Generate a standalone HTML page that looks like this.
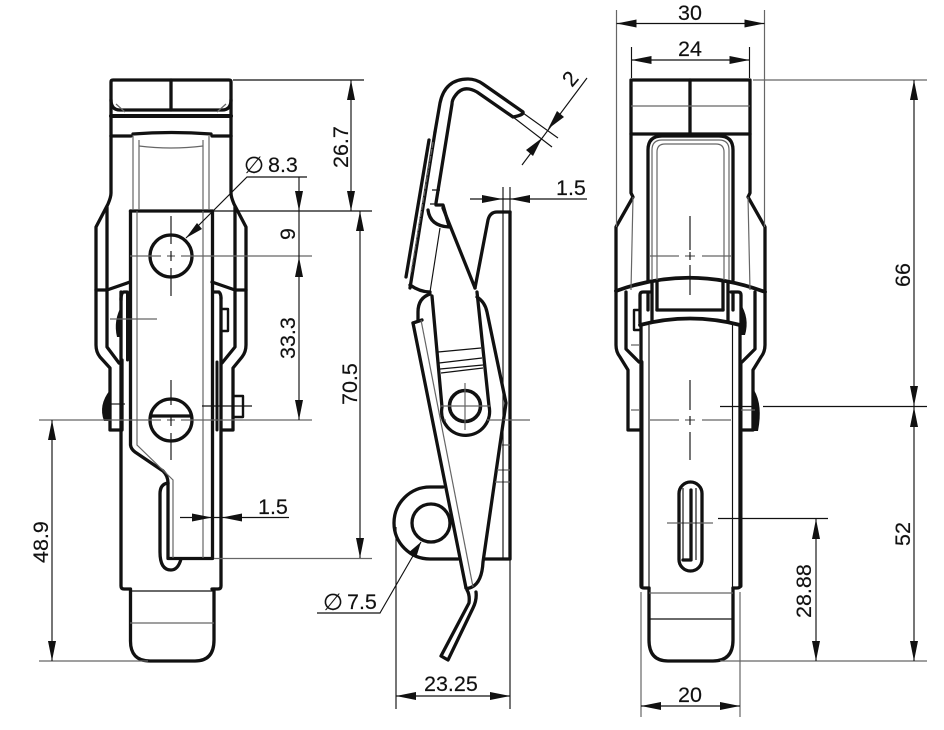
<!DOCTYPE html>
<html>
<head>
<meta charset="utf-8">
<style>
html,body{margin:0;padding:0;background:#fff;}
svg{display:block;}
text{font-family:"Liberation Sans",sans-serif;font-size:21.5px;fill:#111;stroke:#111;stroke-width:.15;}
.s{font-family:"DejaVu Sans",sans-serif;font-size:23px;}
.t{fill:none;stroke:#111;stroke-width:3.3;stroke-linejoin:round;stroke-linecap:round;}
.k{fill:none;stroke:#111;stroke-width:2.4;stroke-linejoin:round;}
.m{fill:none;stroke:#111;stroke-width:1.15;}
.g{fill:none;stroke:#666;stroke-width:1.2;}
.a{fill:#111;stroke:none;}
</style>
</head>
<body>
<svg width="944" height="730" viewBox="0 0 944 730" xmlns="http://www.w3.org/2000/svg">
<!-- LEFT VIEW -->
<g class="t">
<path d="M113 80H229Q231 80 231 82V136M111 136V82Q111 80 113 80"/>
<path d="M171 80V110"/>
<path d="M111 100Q111 110 120 110H222Q231 110 231 100"/>
<path d="M111 116H231" stroke-width="4"/>
<path d="M111 136H131M212 136H231"/>
<path d="M133 134Q171 131 211 134"/>
<path d="M111 136V193Q111 197 108 204L96 227V345Q96 352 100 357L110 368V430H120"/>
<path d="M231 136V193Q231 197 234 204L246 227V345Q246 352 242 357L233 368V430H222"/>
<path d="M107 207V347L119 363"/>
<path d="M235 207V347L222 363"/>
<path d="M96 290H107L130 282"/>
<path d="M246 290H235L212 282"/>
<path d="M121 300Q121 292 124 292H127"/>
<path d="M213 292H219Q221 294 221 298"/>
<path d="M121 292V586Q121 589 124 589H130"/>
<path d="M221 298V586Q221 589 218 589H212"/>
<path d="M130.5 211H212"/>
<path d="M130.5 211V445Q131 449 135 452L163 471Q168 476 168 483V558.5H212.5V211"/>
<path d="M168 483Q160 484 160 494V552Q160 570 171 570Q178 570 181 559"/>
<path d="M130.5 589V640Q130 661 150 661H195Q214 661 214 640V589"/>
<path d="M127.5 292V360" stroke-width="3"/>
<path d="M217 362V430" stroke-width="3"/>
<path d="M122 360V430"/>
</g>
<g class="k">
<path d="M222 309H228V331H222"/>
<path d="M233 396H243V417H233"/>
</g>
<path class="a" d="M122 305Q113 320 117 337L122 337Z"/>
<path class="a" d="M110 390Q98 405 104 421L110 421Z"/>
<circle class="t" cx="171" cy="256" r="21"/>
<circle class="t" cx="171" cy="420" r="21"/>
<path class="t" d="M151 416H191"/>
<g class="g">
<path d="M137 211V445L173 480V558"/>
<path d="M203 211V558"/>
<path d="M133 136V210M209 136V210M139 140V210M203 140V210"/>
<path d="M139 146Q171 150 203 146"/>
<path d="M116 104L125 112M226 104L217 112"/>
<path d="M130 623H214"/>
<path d="M130 256H161M167 256H175M181 256H312"/>
<path d="M39 420H161M167 420H175M181 420H312"/>
<path d="M110 319H157"/>
<path d="M39 661H148"/>
<path d="M214 558.5H372"/>
</g>
<g class="m">
<path d="M171 216V244M171 251V261M171 268V296"/>
<path d="M171 380V405M171 415V426M171 433V460"/>
<path d="M202 406H252"/>
<path d="M110 404H125"/>
<path d="M130 591H214"/>
<path d="M233 80H364"/>
<path d="M214 211H372"/>
<path d="M351 80V211"/>
<path d="M299 177V420"/>
<path d="M360 211V558"/>
<path d="M52 420V661"/>
<path d="M180 517.5H289"/>
<path d="M307 177H247L186 238"/>
</g>
<g class="a">
<polygon points="351,80 347,100 355,100"/>
<polygon points="351,211 347,191 355,191"/>
<polygon points="299,211 295,191 303,191"/>
<polygon points="299,257 295,277 303,277"/>
<polygon points="299,420 295,400 303,400"/>
<polygon points="360,211 356,231 364,231"/>
<polygon points="360,558 356,538 364,538"/>
<polygon points="52,420 48,440 56,440"/>
<polygon points="52,661 48,641 56,641"/>
<polygon points="212,517.5 192,513.5 192,521.5"/>
<polygon points="222,517.5 242,513.5 242,521.5"/>
<polygon points="186,238 197,223 202,229"/>
</g>
<text class="s" x="244" y="173">∅</text>
<text x="268" y="172">8.3</text>
<text x="258" y="514">1.5</text>
<text transform="translate(348,168) rotate(-90)">26.7</text>
<text transform="translate(295,240) rotate(-90)">9</text>
<text transform="translate(295,359) rotate(-90)">33.3</text>
<text transform="translate(357,405) rotate(-90)">70.5</text>
<text transform="translate(48,563) rotate(-90)">48.9</text>

<!-- SIDE VIEW -->
<g class="t">
<path d="M435 132L440 103Q445 79 468 79Q476 79 483 84L523 112Q524 115 513 117L477 92Q463 84 455 96Q452 100 452 104L436 203"/>
<path d="M429 140L406 277"/>
<path d="M435 132L410 288"/>
<path d="M436 205H443L449 226"/>
<path d="M428 210Q430 226 449 227"/>
<path d="M443 208L475 288"/>
<path d="M410 285Q420 292 430 292"/>
<path d="M430 294Q418 298 418 312V320"/>
<path d="M413 323L422 320"/>
<path d="M413 323L466 588"/>
<path d="M432 296L442 407A24 24 0 1 0 489 406L477 292"/>
<path d="M477 297Q485 302 487 312L506 403L483 562Q482 582 472 587Q468 589 466 588"/>
<path d="M510 212V559H485"/>
<path d="M510 212H497Q490 212 488 220L475 288"/>
<path d="M443 487H430A36 36 0 0 0 430 559H458"/>
<circle cx="431" cy="523" r="19"/>
<circle cx="465" cy="406" r="15.5" stroke-width="3.6"/>
<path d="M467 590Q470 595 469 603L441 656L448 660L473 608Q477 600 476 592"/>
</g>
<g class="g">
<path d="M433 142L411 273" stroke-dasharray="6 1"/>
<path d="M421 320L473 587"/>
<path d="M487 420H530"/>
<path d="M441 406H490"/>
<path d="M465 383V430"/>
<path d="M502 445H510M497 470H510M495 482H510"/>
<path d="M444 420H446"/>
</g>
<g class="m">
<path d="M440 228L430 292"/>
<path d="M503 187V559"/>
<path d="M510 187V211"/>
<path d="M432 190H440M430 204H437"/>
<path d="M438 352L481 348M439 363L482 358M440 369L483 365M441 373L483 368"/>
<path d="M470 199H587"/>
<path d="M523 113L558 138M513 117L552 147"/>
<path d="M587 78L522 165"/>
<path d="M317 613H380L421 542"/>
<path d="M396 527V709M510 559V709"/>
<path d="M396 696H510"/>
</g>
<g class="a">
<polygon points="502.5,199 482,195 482,203"/>
<polygon points="510,199 530,195 530,203"/>
<polygon points="548,129 557,111 564,117"/>
<polygon points="542,138 533,156 526,150"/>
<polygon points="421,542 416,558 408,553"/>
<polygon points="396,696 416,692 416,700"/>
<polygon points="510,696 490,692 490,700"/>
</g>
<text x="556" y="195">1.5</text>
<text transform="translate(572,88) rotate(-50)">2</text>
<text class="s" x="323" y="610">∅</text>
<text x="347" y="609">7.5</text>
<text x="424" y="691">23.25</text>

<!-- RIGHT VIEW -->
<g class="t">
<path d="M631 80H750V134H631Z"/>
<path d="M690 80V134"/>
<path d="M631 134V193L633 197L616 227V291"/>
<path d="M750 134V193L748 197L765 227V292"/>
<path d="M648 280V150Q648 136 662 136H719Q733 136 733 150V280"/>
<path d="M616 291Q690 264 765 292" stroke-width="3.8"/>
<path d="M640 325Q690 312 740 325" stroke-width="3.8"/>
<path d="M616 291V345Q616 352 620 357L628 370V430H640"/>
<path d="M765 292V345Q765 352 761 357L753 370V430H741"/>
<path d="M626 292V349L639 362"/>
<path d="M755 292V349L742 362"/>
<path d="M657 282V310M652 282V322M723 282V310M728 282V322"/>
<path d="M657 310H723"/>
<path d="M640 323V295Q640 292 643 292H650M648 293V310"/>
<path d="M741 323V295Q741 292 738 292H731M733 293V310"/>
<path d="M641 325V586Q641 588 644 588H649"/>
<path d="M740 325V586Q740 588 737 588H733"/>
<path d="M641.5 362V586M740.5 362V586" stroke-width="4"/>
<path d="M649 588V640Q649 661 668 661H713Q733 661 733 640V588"/>
<rect x="679" y="482" width="23" height="89" rx="11.5"/>
<path d="M691 490V560H683"/>
</g>
<g class="k">
<path d="M640 310H634V330H640"/>
</g>
<path class="a" d="M740 303Q750 318 745 335L740 335Z"/>
<path class="a" d="M754 390Q763 405 758 431L754 431Z"/>
<g class="g">
<path d="M652 150Q652 140 662 140H719Q729 140 729 150V280"/>
<path d="M652 150V280"/>
<path d="M657 280V152Q657 144 665 144H716Q724 144 724 152V280"/>
<path d="M631 106H750"/>
<path d="M633 197L631 290M748 197L750 290"/>
<path d="M650 256H679M685 256H695M702 256H731"/>
<path d="M650 420H679M685 420H695M702 420H731"/>
<path d="M667 523H713"/>
<path d="M649 593H733"/>
<path d="M641 592V717M740 592V717"/>
<path d="M616.5 10V227M764.5 10V227"/>
<path d="M753 80H927"/>
<path d="M720 661H927"/>
<path d="M631 345H640M631 410H640M741 410H755"/>
</g>
<g class="m">
<path d="M649 325V588M732.5 325V588"/>
<path d="M690 216V250M690 252V260M690 265V295"/>
<path d="M690 380V410M690 416V425M690 432V460"/>
<path d="M683 488V560M696 488V560"/>
<path d="M649 619H733"/>
<path d="M720 406.5H757M763 406.5H927"/>
<path d="M718 518.5H828"/>
<path d="M816 519V661"/>
<path d="M914 80V661"/>
<path d="M616.5 23.5H764.5"/>
<path d="M631.5 60H749.5"/>
<path d="M631.5 47V78M749.5 47V78"/>
<path d="M641 706H740"/>
</g>
<g class="a">
<polygon points="616.5,23.5 636.5,19.5 636.5,27.5"/>
<polygon points="764.5,23.5 744.5,19.5 744.5,27.5"/>
<polygon points="631.5,60 651.5,56 651.5,64"/>
<polygon points="749.5,60 729.5,56 729.5,64"/>
<polygon points="914,80 910,100 918,100"/>
<polygon points="914,406 910,386 918,386"/>
<polygon points="914,407 910,427 918,427"/>
<polygon points="914,661 910,641 918,641"/>
<polygon points="816,519 812,539 820,539"/>
<polygon points="816,661 812,641 820,641"/>
<polygon points="641,706 661,702 661,710"/>
<polygon points="740,706 720,702 720,710"/>
</g>
<text x="678" y="20">30</text>
<text x="678" y="56">24</text>
<text x="678" y="702">20</text>
<text transform="translate(910,287) rotate(-90)">66</text>
<text transform="translate(910,546) rotate(-90)">52</text>
<text transform="translate(811,618) rotate(-90)">28.88</text>
</svg>
</body>
</html>
